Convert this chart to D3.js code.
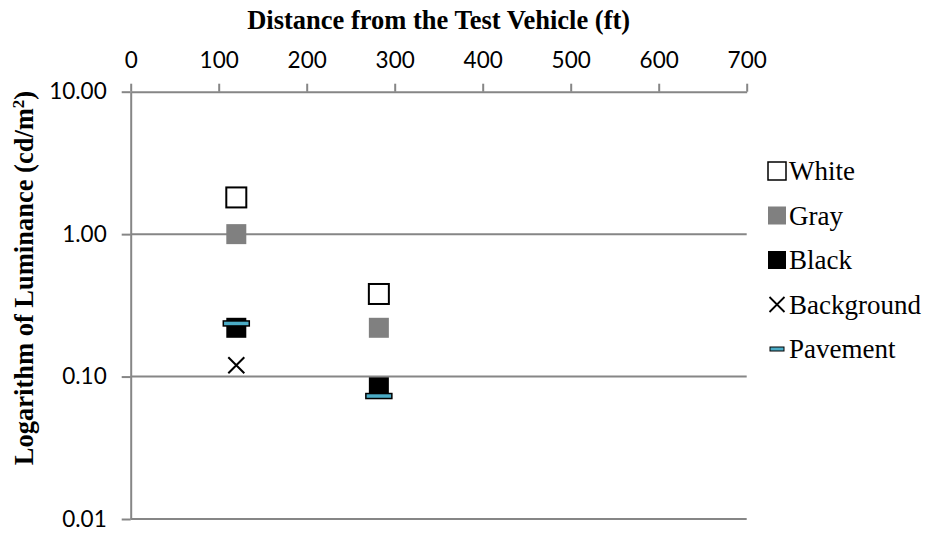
<!DOCTYPE html>
<html>
<head>
<meta charset="utf-8">
<script src="https://cdn.jsdelivr.net/npm/d3@7"></script>
<style>
  body { margin: 0; background: #fff; }
  svg { display: block; }
</style>
</head>
<body>
<div class="scatter-chart"></div>
<script>
//======================DATA===================================================================

const distances = [120, 282];
const whiteVals = [1.81, 0.38];
const grayVals = [1.00, 0.22];
const blackVals = [0.22, 0.084];
const backgroundDist = [120];
const backgroundVals = [0.12];
const pavementVals = [0.236, 0.073];

const xTicks = [0, 100, 200, 300, 400, 500, 600, 700];
const yTicks = [0.01, 0.1, 1, 10];
const legendNames = ['White', 'Gray', 'Black', 'Background', 'Pavement'];

//======================CHART==================================================================
const w = 927;
const h = 535;

const plotLeft = 130.7, plotRight = 746.7, plotTop = 91.7, plotBottom = 519;
const axisColor = '#868686';
const serif = '"Liberation Serif", "Times New Roman", serif';

let xScale = d3.scaleLinear()
  .domain([0, 700])
  .range([plotLeft, plotRight]);

let yScale = d3.scaleLog()
  .domain([0.01, 10])
  .range([plotBottom, plotTop]);

let svg = d3.select('.scatter-chart').append('svg')
  .attr('width', w)
  .attr('height', h);

// gridlines

svg.append('g')
  .selectAll('line')
  .data(yTicks.slice(0, 3))
  .join('line')
  .attr('x1', plotLeft)
  .attr('x2', plotRight)
  .attr('y1', d => yScale(d))
  .attr('y2', d => yScale(d))
  .attr('stroke', axisColor)
  .attr('stroke-width', 2);

// axes

let xAxisGen = d3.axisTop(xScale)
  .tickValues(xTicks)
  .tickFormat(d3.format('d'))
  .tickSizeInner(8)
  .tickSizeOuter(0)
  .tickPadding(16);

let yAxisGen = d3.axisLeft(yScale)
  .tickValues(yTicks)
  .tickFormat(d3.format('.2f'))
  .tickSizeInner(9)
  .tickSizeOuter(0)
  .tickPadding(15);

let xAxis = svg.append('g')
  .attr('transform', 'translate(0,' + plotTop + ')')
  .call(xAxisGen);

let yAxis = svg.append('g')
  .attr('transform', 'translate(' + plotLeft + ',0)')
  .call(yAxisGen);

[xAxis, yAxis].forEach(a => {
  a.selectAll('path, line').attr('stroke', axisColor).attr('stroke-width', 2);
  a.selectAll('text')
    .attr('fill', '#000')
    .style('font-family', 'Lato, sans-serif')
    .style('font-size', '22.5px');
});

// axis titles

svg.append('text')
  .attr('x', (plotLeft + plotRight) / 2)
  .attr('y', 29)
  .attr('text-anchor', 'middle')
  .style('font-family', serif)
  .style('font-weight', 'bold')
  .style('font-size', '26.5px')
  .text('Distance from the Test Vehicle (ft)');

let yTitle = svg.append('text')
  .attr('transform', 'translate(33,278) rotate(-90)')
  .attr('text-anchor', 'middle')
  .style('font-family', serif)
  .style('font-weight', 'bold')
  .style('font-size', '26.5px');
yTitle.append('tspan').text('Logarithm of Luminance (cd/m');
yTitle.append('tspan').attr('baseline-shift', 'super').style('font-size', '17px').text('2');
yTitle.append('tspan').text(')');

// markers

const sq = 20;

const drawSquares = (vals, fill, stroke) => {
  svg.append('g')
    .selectAll('rect')
    .data(vals)
    .join('rect')
    .attr('x', (d, i) => xScale(distances[i]) - sq / 2)
    .attr('y', d => yScale(d) - sq / 2)
    .attr('width', sq)
    .attr('height', sq)
    .attr('fill', fill)
    .attr('stroke', stroke)
    .attr('stroke-width', stroke === 'none' ? 0 : 2);
};

drawSquares(whiteVals, '#fff', '#000');
drawSquares(grayVals, '#808080', 'none');
drawSquares(blackVals, '#000', 'none');

const cross = 8;
svg.append('g')
  .selectAll('path')
  .data(backgroundVals)
  .join('path')
  .attr('d', (d, i) => {
    let cx = xScale(backgroundDist[i]), cy = yScale(d);
    return 'M' + (cx - cross) + ',' + (cy - cross) + 'L' + (cx + cross) + ',' + (cy + cross)
      + 'M' + (cx - cross) + ',' + (cy + cross) + 'L' + (cx + cross) + ',' + (cy - cross);
  })
  .attr('stroke', '#000')
  .attr('stroke-width', 2);

svg.append('g')
  .selectAll('rect')
  .data(pavementVals)
  .join('rect')
  .attr('x', (d, i) => xScale(distances[i]) - 13)
  .attr('y', d => yScale(d) - 2.5)
  .attr('width', 26)
  .attr('height', 5)
  .attr('fill', '#4bacc6')
  .attr('stroke', '#000')
  .attr('stroke-width', 1.5);

// legend

const legendX = 777;
const legendY0 = 171;
const legendStep = 44.5;
const ls = 18;

let legend = svg.append('g');

legendNames.forEach((name, i) => {
  let cy = legendY0 + i * legendStep;
  let g = legend.append('g');
  if (i < 3) {
    let fills = ['#fff', '#808080', '#000'];
    g.append('rect')
      .attr('x', legendX - ls / 2)
      .attr('y', cy - ls / 2)
      .attr('width', ls)
      .attr('height', ls)
      .attr('fill', fills[i])
      .attr('stroke', i === 0 ? '#000' : 'none')
      .attr('stroke-width', i === 0 ? 1.5 : 0);
  } else if (i === 3) {
    let c = 7.5;
    g.append('path')
      .attr('d', 'M' + (legendX - c) + ',' + (cy - c) + 'L' + (legendX + c) + ',' + (cy + c)
        + 'M' + (legendX - c) + ',' + (cy + c) + 'L' + (legendX + c) + ',' + (cy - c))
      .attr('stroke', '#000')
      .attr('stroke-width', 1.8);
  } else {
    g.append('rect')
      .attr('x', legendX - 7)
      .attr('y', cy - 2)
      .attr('width', 14)
      .attr('height', 4)
      .attr('fill', '#4bacc6')
      .attr('stroke', '#000')
      .attr('stroke-width', 1);
  }
  g.append('text')
    .attr('x', legendX + 12)
    .attr('y', cy + 9)
    .style('font-family', serif)
    .style('font-size', '27px')
    .text(name);
});
</script>
</body>
</html>
